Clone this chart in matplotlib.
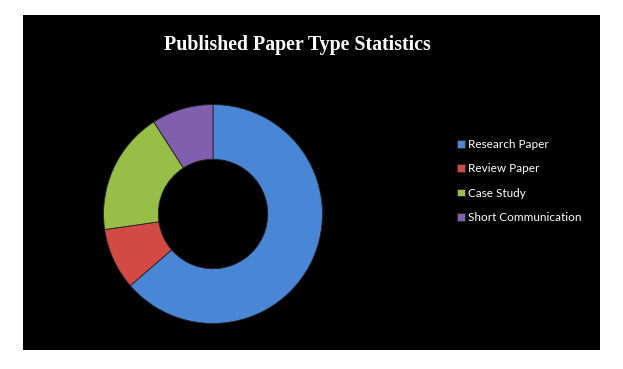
import matplotlib
matplotlib.use("Agg")
import matplotlib.pyplot as plt

categories = ["Research Paper", "Review Paper", "Case Study", "Short Communication"]
counts = [70, 10, 20, 10]
colors = ["#4A86D6", "#D34A45", "#98BE48", "#7F5FAE"]

W, H = 623, 369
fig = plt.figure(figsize=(W / 100, H / 100), dpi=100)
fig.patch.set_facecolor("white")

# black chart area as a background axes
bg = fig.add_axes([23 / W, 1 - 350 / H, 577 / W, 335 / H], zorder=-1)
bg.set_facecolor("black")
bg.set_xticks([])
bg.set_yticks([])
for s in bg.spines.values():
    s.set_visible(False)

# donut: center (213, 214) px, radius ~110 px
cx, cy, r = 213, 214, 110
ax = fig.add_axes([(cx - r) / W, 1 - (cy + r) / H, 2 * r / W, 2 * r / H])
ax.set_facecolor("none")
wedges, _ = ax.pie(counts, colors=colors, startangle=90, counterclock=False,
                   radius=1.0, wedgeprops=dict(width=0.5, linewidth=0.6,
                                               edgecolor="#222222"))
ax.set_xlim(-1.005, 1.005)
ax.set_ylim(-1.005, 1.005)
ax.set_aspect("equal")
ax.axis("off")

fig.text(297 / W, 1 - 45 / H, "Published Paper Type Statistics",
         color="white", fontsize=14.3, fontweight="bold",
         family="Liberation Serif", ha="center", va="center")

leg = fig.legend(wedges, categories, loc="center left",
                 bbox_to_anchor=(451 / W, 1 - 181 / H), frameon=False,
                 prop={"family": "Lato", "size": 8.5},
                 labelcolor="white", handlelength=0.65, handleheight=0.65,
                 handletextpad=0.3, labelspacing=1.12, borderpad=0)

fig.savefig("out.png", dpi=100, facecolor="white")
